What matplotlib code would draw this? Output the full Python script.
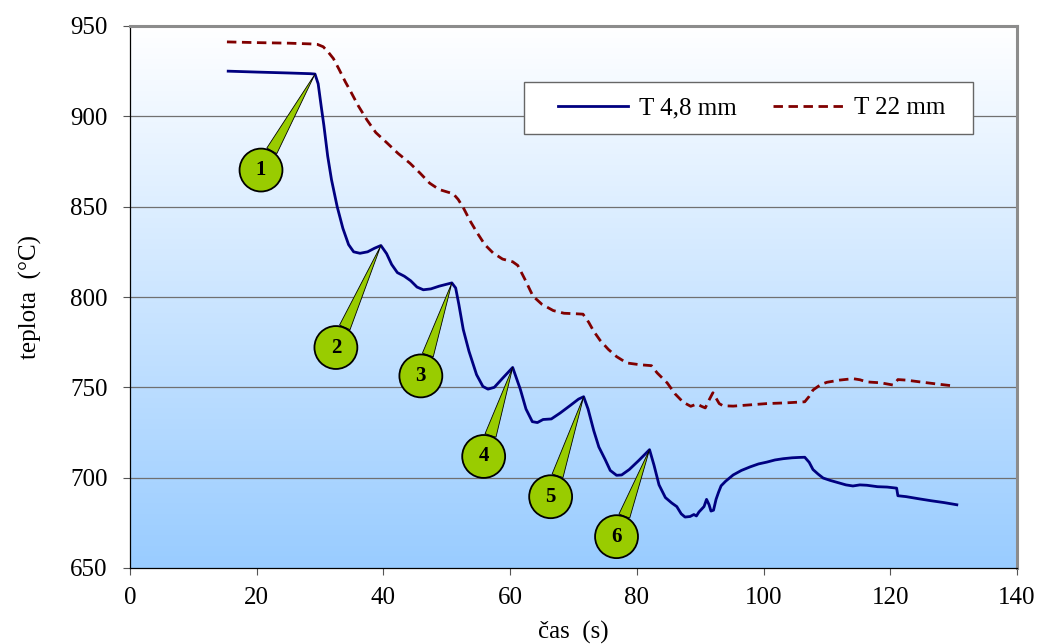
import numpy as np
import matplotlib
matplotlib.use("Agg")
import matplotlib.pyplot as plt
from matplotlib.patches import Rectangle
from matplotlib.colors import LinearSegmentedColormap

# ---------------- data ----------------
blue_t = [15.5, 20, 25, 28.5, 29.2, 29.7, 30.2, 30.6, 31.2, 31.8, 32.7, 33.6, 34.5, 35.3, 36.3,
          37.5, 38.6, 39.6, 40.5, 41.3, 42.2, 43.3, 44.3, 45.3, 46.3, 47.5, 48.8, 50.8, 51.4,
          51.9, 52.6, 53.5, 54.7, 55.7, 56.5, 57.5, 58.8, 60.4, 61.0, 61.6, 62.5, 63.5, 64.3,
          65.2, 66.5, 67.9, 69.5, 70.8, 71.6, 72.3, 73.2, 74.0, 75.0, 75.8, 76.8, 77.6, 78.8,
          80.3, 82.0, 82.7, 83.5, 84.5, 85.5, 86.3, 87.0, 87.6, 88.4, 89.0, 89.4, 89.8, 90.6,
          91.0, 91.4, 91.7, 92.1, 92.5, 92.9, 93.3, 94.0, 95.2, 96.5, 97.9, 99.2, 100.5, 101.8,
          103.1, 104.5, 105.6, 106.5, 107.2, 107.8, 108.6, 109.4, 110.5, 112.0, 113.0, 114.1,
          115.2, 116.3, 118.0, 119.5, 121.0, 121.2, 122.5, 124.7, 126.5, 128.5, 130.5]
blue_T = [925.0, 924.5, 924.0, 923.6, 923.4, 918, 905, 895, 878, 865, 850, 838, 829, 825, 824.2,
          825, 827, 828.5, 824, 818, 813.5, 811.5, 809, 805.5, 804, 804.5, 806, 807.8, 805,
          796, 782, 770, 757, 750.5, 749, 750, 755, 761, 755, 749, 738, 731, 730.5,
          732.2, 732.5, 735.8, 740, 743.5, 744.8, 738, 726, 717, 710, 704, 701.3, 701.5, 704.5,
          709.5, 715.5, 707, 696, 689, 686, 684, 680, 678.2, 678.5, 679.6, 678.8, 681, 684,
          688, 685, 681.5, 682, 688, 692, 695.5, 698, 701.5, 704, 706, 707.6, 708.6, 709.8,
          710.5, 711, 711.2, 711.3, 708.5, 704.5, 702, 699.8, 698.5, 697, 696, 695.4,
          696, 695.8, 695, 694.8, 694.2, 690, 689.5, 688.2, 687.2, 686.2, 685]

red_t = [15.3, 20, 25, 28.4, 29.6, 30.5, 31.3, 32.1, 33.0, 34.0, 34.7, 36.0, 37.4, 38.8, 40.5,
         42.3, 44.2, 45.8, 47.3, 48.8, 50.2, 51.0, 51.8, 52.6, 53.7, 54.8, 56.0, 57.3, 58.8,
         60.4, 61.2, 62.3, 63.6, 65.0, 66.8, 68.5, 70.5, 71.5, 72.4, 73.2, 74.2, 75.5, 76.8,
         78.4, 80.5, 82.3, 83.2, 84.8, 86.0, 87.3, 88.5, 89.5, 90.2, 90.8, 91.4, 92.0, 92.5,
         93.0, 93.6, 95.2, 97.5, 100.5, 103.5, 106.5, 107.2, 107.8, 109.0, 110.0, 112.0, 114.1,
         115.2, 116.3, 118.5, 120.4, 120.8, 121.2, 122.5, 124.7, 127.0, 129.9]
red_T = [941.2, 940.8, 940.5, 940.1, 939.8, 938.5, 935.5, 932, 926, 919, 914.6, 906, 898, 891, 885.5,
         879.5, 874, 868.5, 863, 859.5, 858, 857.2, 854, 849.5, 842, 835.5, 829, 824.4, 821,
         819.5, 817.5, 810, 800.5, 796, 792.5, 791, 790.7, 790.5, 786, 781, 776, 771, 767,
         763.5, 762.5, 762, 758, 752.4, 746.5, 741.8, 739.5, 740.8, 739.5, 738.6, 743, 747, 744,
         741, 739.8, 739.6, 740.2, 741, 741.4, 742, 745, 748.5, 751.5, 752.8, 754, 754.8,
         754.2, 753, 752.5, 751.3, 752.5, 754.3, 754, 753, 752, 750.8]

series_labels = ["T 4,8 mm", "T 22 mm"]
peak_times = [29.2, 39.6, 50.8, 60.4, 71.6, 82.0]
peak_labels = ["1", "2", "3", "4", "5", "6"]
x_ticks = [0, 20, 40, 60, 80, 100, 120, 140]
y_ticks = [650, 700, 750, 800, 850, 900, 950]

# ---------------- figure ----------------
plt.rcParams['font.family'] = ['Liberation Serif', 'DejaVu Serif']
plt.rcParams['font.size'] = 18

fig = plt.figure(figsize=(10.38, 6.44), dpi=100)
ax = fig.add_axes([130/1038, 1-568/644, (1017-130)/1038, (568-26)/644])

# gradient background
grad = np.linspace(0, 1, 256).reshape(-1, 1)
cmap = LinearSegmentedColormap.from_list("bg", ["#FFFFFF", "#99CCFF"])
ax.imshow(grad, cmap=cmap, aspect='auto', extent=[0, 1, 0, 1], origin='upper',
          transform=ax.transAxes, zorder=0)

ax.set_xlim(0, 140)
ax.set_ylim(650, 950)
ax.set_xticks(x_ticks)
ax.set_yticks(y_ticks)

for yv in y_ticks[1:-1]:
    ax.axhline(yv, color='#707070', lw=0.9, zorder=1)

ax.plot(blue_t, blue_T, color='#000080', lw=2.0, zorder=3, label=series_labels[0],
        solid_joinstyle='round')
ax.plot(red_t, red_T, color='#800000', lw=2.0, ls=(0, (3.4, 2.0)), zorder=3,
        label=series_labels[1])

# spines
for s in ['left', 'bottom']:
    ax.spines[s].set_color('black')
    ax.spines[s].set_linewidth(0.9)
for s in ['top', 'right']:
    ax.spines[s].set_color('#8C8C8C')
    ax.spines[s].set_linewidth(2.2)

ax.tick_params(axis='y', direction='out', length=5, width=0.8, color='#555555', pad=11)
ax.tick_params(axis='x', direction='out', length=5, width=0.8, color='#555555', pad=9)

ax.set_xlabel("čas  (s)", labelpad=8)
ax.set_ylabel("teplota  (°C)", labelpad=20)

# callouts
offsets = [(-54, -96), (-45, -102), (-31, -93), (-29, -89), (-33, -100), (-33, -87)]
for pt, lab, off in zip(peak_times, peak_labels, offsets):
    yv = float(np.interp(pt, blue_t, blue_T))
    ax.annotate(lab, xy=(pt, yv), xytext=off, textcoords='offset pixels',
                ha='center', va='center', fontsize=15, fontweight='bold', zorder=5,
                bbox=dict(boxstyle='circle,pad=0.55', fc='#99CC00', ec='black', lw=1.3),
                arrowprops=dict(arrowstyle='wedge,tail_width=0.55,shrink_factor=0.5',
                                fc='#99CC00', ec='black', lw=0.6,
                                shrinkA=0, shrinkB=0))

# legend
rect = Rectangle((524/1038, 1-134/644), 449/1038, 52/644, transform=fig.transFigure,
                 fc='white', ec='#666666', lw=1.0, zorder=6, clip_on=False)
ax.add_artist(rect)
leg = ax.legend(loc='center left', bbox_to_anchor=(558/1038, 1-108/644),
                bbox_transform=fig.transFigure, ncol=2, frameon=False,
                borderpad=0, borderaxespad=0, handlelength=2.8, handletextpad=0.45,
                columnspacing=1.45, fontsize=18)
leg.set_zorder(7)

fig.savefig("out.png", dpi=100)
